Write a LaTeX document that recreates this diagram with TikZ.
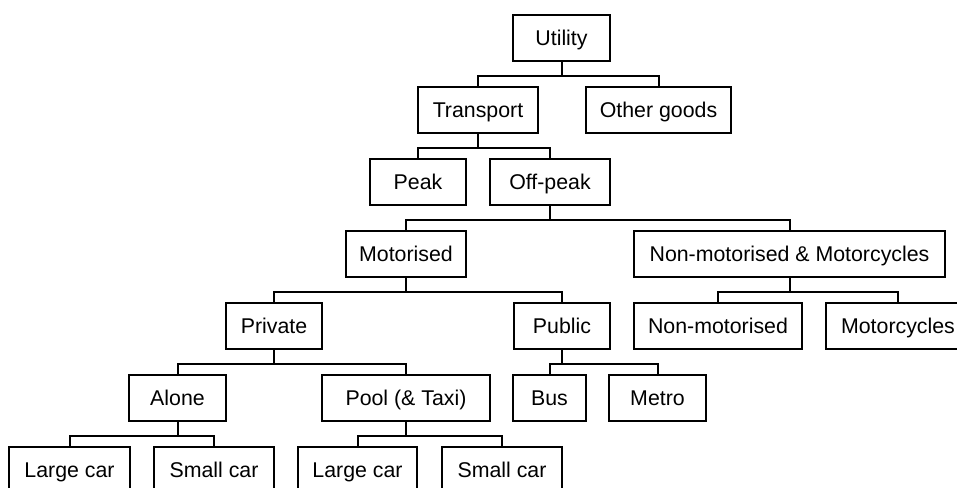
\documentclass[tikz,border=0pt]{standalone}
\usepackage{fontspec}
\setmainfont{Liberation Sans}
\newcommand\treebox[5]{%
  \pgfmathsetmacro\bw{(#3-#2)*0.75}%
  \node[box,minimum width=\bw pt] (#1) at ({(#2+#3)/2},{#4+23}) {#5};}
\newcommand\branch[3]{%
  \draw[link] (#1.south) -- ++(0,14) -| (#2.north);
  \draw[link] (#1.south) -- ++(0,14) -| (#3.north);}
\begin{document}
\begin{tikzpicture}[x=0.75pt,y=-0.75pt,
  line width=1.5pt,
  box/.style={draw,rectangle,inner sep=0pt,minimum height=34.5pt,
    text height=11.5pt,text depth=0pt,
    font=\fontsize{16}{19}\selectfont},
  link/.style={line join=miter}]
\clip (0,0) rectangle (957,488);
% boxes: name, left edge, right edge, top edge (px), text
\treebox{util}{513}{610}{15}{Utility}
\treebox{trans}{418}{538}{87}{Transport}
\treebox{other}{586}{731}{87}{Other goods}
\treebox{peak}{370}{466}{159}{Peak}
\treebox{offpeak}{490}{610}{159}{Off-peak}
\treebox{motor}{346}{466}{231}{Motorised}
\treebox{nmm}{634}{945}{231}{Non-motorised \& Motorcycles}
\treebox{priv}{226}{322}{303}{Private}
\treebox{pub}{514}{610}{303}{Public}
\treebox{nonmot}{634}{802}{303}{Non-motorised}
\treebox{mcyc}{826}{970}{303}{Motorcycles}
\treebox{alone}{129}{226}{375}{Alone}
\treebox{pool}{322}{490}{375}{Pool (\& Taxi)}
\treebox{bus}{513}{586}{375}{Bus}
\treebox{metro}{609}{706}{375}{Metro}
\treebox{lcara}{9}{130}{447}{Large car}
\treebox{scara}{154}{274}{447}{Small car}
\treebox{lcarb}{298}{417}{447}{Large car}
\treebox{scarb}{442}{562}{447}{Small car}
% elbow connectors from each parent to its two children
\branch{util}{trans}{other}
\branch{trans}{peak}{offpeak}
\branch{offpeak}{motor}{nmm}
\branch{motor}{priv}{pub}
\branch{nmm}{nonmot}{mcyc}
\branch{priv}{alone}{pool}
\branch{pub}{bus}{metro}
\branch{alone}{lcara}{scara}
\branch{pool}{lcarb}{scarb}
\end{tikzpicture}
\end{document}
